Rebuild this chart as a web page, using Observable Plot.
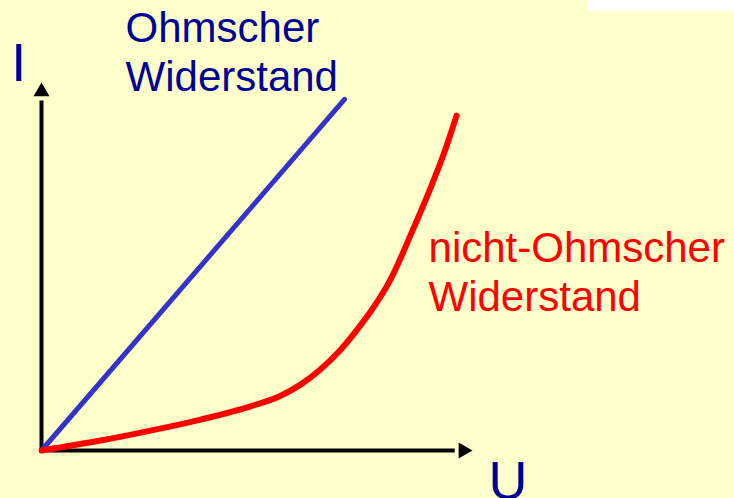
<!DOCTYPE html>
<html>
<head>
<meta charset="utf-8">
<script src="https://cdn.jsdelivr.net/npm/d3@7"></script>
<script src="https://cdn.jsdelivr.net/npm/@observablehq/plot@0.6"></script>
<style>
  html, body { margin: 0; padding: 0; background: #FFFFCC; }
  #wrap { position: relative; width: 734px; height: 498px; overflow: hidden; }
  #patch { position: absolute; left: 588px; top: 0; width: 146px; height: 11px; background: #ffffff; }
</style>
</head>
<body>
<div id="wrap"><div id="chart"></div><div id="patch"></div></div>
<script>
// Ohmscher Widerstand (linear)
const ohmU = [0, 7.03];
const ohmI = [0, 9.54];
// nicht-Ohmscher Widerstand (nonlinear)
const nonOhmU = [0, 1.37, 2.53, 3.69, 4.85, 5.55, 6.01, 6.47, 6.94, 7.40, 7.75, 8.10, 8.58, 9.07, 9.37, 9.63];
const nonOhmI = [0, 0.27, 0.54, 0.84, 1.20, 1.49, 1.79, 2.20, 2.74, 3.40, 3.97, 4.65, 5.90, 7.26, 8.18, 9.10];
// labels
const labelText = ["Ohmscher\nWiderstand", "nicht-Ohmscher\nWiderstand"];
const labelU = [1.95, 8.98];
const labelI = [9.76, 3.80];
const labelColor = ["#000099", "#FF0000"];
const axisNames = ["I", "U"];
const axisNameU = [-0.70, 10.37];
const axisNameI = [10.05, -1.33];

const ohm = ohmU.map((u, i) => ({u, i: ohmI[i]}));
const nonOhm = nonOhmU.map((u, i) => ({u, i: nonOhmI[i]}));
const labels = labelText.map((t, k) => ({t, u: labelU[k], i: labelI[k], c: labelColor[k]}));
const axisLabels = axisNames.map((t, k) => ({t, u: axisNameU[k], i: axisNameI[k]}));

const font = "Liberation Sans, Arial, Helvetica, sans-serif";

const chart = Plot.plot({
  width: 734,
  height: 498,
  margin: 0,
  style: {background: "#FFFFCC", overflow: "visible"},
  x: {domain: [0, 10], range: [41, 472], axis: null},
  y: {domain: [0, 10], range: [450, 82], axis: null},
  marks: [
    Plot.ruleX([0], {y1: 0, y2: 9.5, stroke: "black", strokeWidth: 4}),
    Plot.ruleY([0], {x1: 0, x2: 9.6, stroke: "black", strokeWidth: 4}),
    Plot.dot([{u: 0, i: 10}], {x: "u", y: "i", symbol: "triangle", r: 5.94, fill: "black", stroke: null, dy: 9.24}),
    Plot.dot([{u: 10, i: 0}], {x: "u", y: "i", symbol: "triangle", r: 5.94, fill: "black", stroke: null, rotate: 90, dx: -9.24}),
    Plot.line(ohm, {x: "u", y: "i", stroke: "#3333CC", strokeWidth: 5}),
    Plot.line(nonOhm, {x: "u", y: "i", stroke: "#FF0000", strokeWidth: 6, curve: "monotone-x"}),
    Plot.text(labels, {x: "u", y: "i", text: "t", fill: "c", textAnchor: "start", lineAnchor: "bottom", lineHeight: 1.17, fontSize: 42, fontFamily: font}),
    Plot.text(axisLabels, {x: "u", y: "i", text: "t", fill: "#000099", textAnchor: "start", lineAnchor: "bottom", fontSize: 54, fontFamily: font})
  ]
});
document.getElementById("chart").appendChild(chart);
</script>
</body>
</html>
